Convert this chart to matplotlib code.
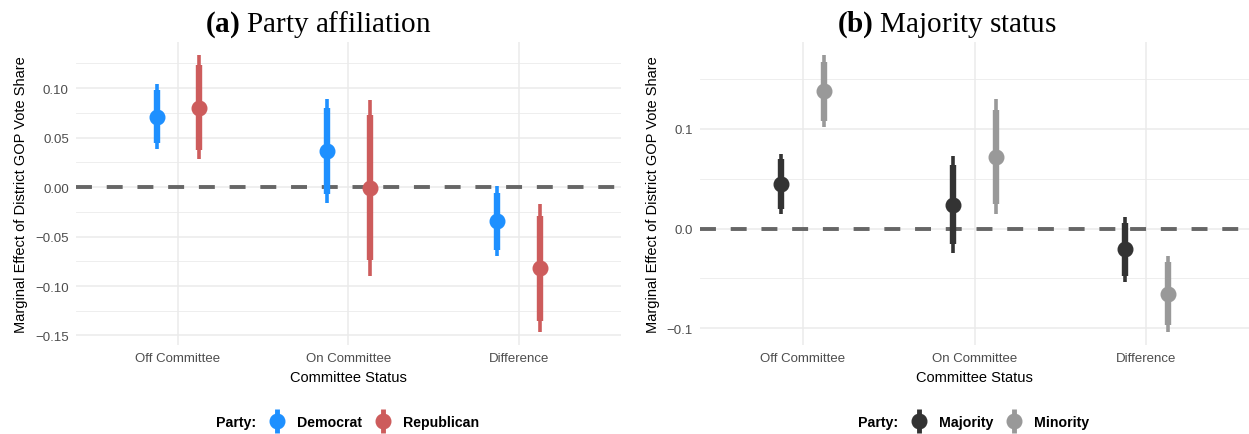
import numpy as np
import matplotlib
matplotlib.use("Agg")
import matplotlib.pyplot as plt
from matplotlib.lines import Line2D

plt.rcParams['font.family'] = ['Liberation Sans', 'DejaVu Sans']
plt.rcParams['mathtext.fontset'] = 'custom'
plt.rcParams['mathtext.rm'] = 'Liberation Serif'
plt.rcParams['mathtext.bf'] = 'Liberation Serif:bold'

# categories on the x axis
categories = ['Off Committee', 'On Committee', 'Difference']

# (a) party affiliation: estimate, inner interval, outer interval
dem_est = [0.071, 0.036, -0.034]
dem_lo66 = [0.044, -0.007, -0.064]
dem_hi66 = [0.098, 0.080, -0.006]
dem_lo95 = [0.038, -0.016, -0.070]
dem_hi95 = [0.104, 0.089, 0.001]

rep_est = [0.080, -0.001, -0.082]
rep_lo66 = [0.037, -0.074, -0.135]
rep_hi66 = [0.123, 0.073, -0.029]
rep_lo95 = [0.028, -0.090, -0.146]
rep_hi95 = [0.133, 0.088, -0.017]

# (b) majority status
maj_est = [0.045, 0.024, -0.021]
maj_lo66 = [0.020, -0.016, -0.048]
maj_hi66 = [0.070, 0.064, 0.006]
maj_lo95 = [0.015, -0.025, -0.054]
maj_hi95 = [0.075, 0.073, 0.012]

min_est = [0.138, 0.072, -0.066]
min_lo66 = [0.108, 0.025, -0.097]
min_hi66 = [0.167, 0.119, -0.034]
min_lo95 = [0.102, 0.015, -0.104]
min_hi95 = [0.174, 0.130, -0.028]

yticks_a = [0.10, 0.05, 0.00, -0.05, -0.10, -0.15]
ytick_labels_a = ['0.10', '0.05', '0.00', '\u22120.05', '\u22120.10', '\u22120.15']
yticks_b = [0.1, 0.0, -0.1]
ytick_labels_b = ['0.1', '0.0', '\u22120.1']

W, H = 1249, 435
fig = plt.figure(figsize=(W / 100, H / 100), dpi=100)


def draw_series(ax, xs, est, lo66, hi66, lo95, hi95, color):
    ax.vlines(xs, lo95, hi95, color=color, lw=2.6, zorder=3)
    ax.vlines(xs, lo66, hi66, color=color, lw=4.6, zorder=3)
    ax.plot(xs, est, 'o', color=color, ms=10.5, zorder=4)


def style_axes(ax, ylim, yticks, ylabels, minor):
    ax.set_xlim(0.4, 3.6)
    ax.set_ylim(*ylim)
    ax.set_xticks(range(1, 4))
    ax.set_xticklabels(categories, fontsize=9.5, color='#4D4D4D')
    ax.set_yticks(yticks)
    ax.set_yticklabels(ylabels, fontsize=9.5, color='#4D4D4D')
    ax.set_yticks(minor, minor=True)
    ax.tick_params(axis='both', which='both', length=0, pad=5)
    ax.grid(True, which='major', color='#EBEBEB', lw=1.1, zorder=0)
    ax.grid(True, which='minor', axis='y', color='#EBEBEB', lw=0.6, zorder=0)
    ax.set_axisbelow(True)
    for s in ax.spines.values():
        s.set_visible(False)
    # dashed reference line at zero
    ax.axhline(0, color='#666666', lw=2.8, ls=(0, (4.1, 3.8)), zorder=2)
    ax.set_xlabel('Committee Status', fontsize=10.5, labelpad=4.5)
    ax.set_ylabel('Marginal Effect of District GOP Vote Share', fontsize=10.5, labelpad=5)


def add_legend(center_px, names, colors):
    handles = []
    for c in colors:
        bar = Line2D([0], [0], color=c, marker='|', ms=17, mew=3.5, lw=0)
        dot = Line2D([0], [0], color=c, marker='o', ms=10.5, lw=0)
        handles.append((bar, dot))
    leg = fig.legend(handles, names, loc='center', ncol=2,
                     bbox_to_anchor=((center_px + 26) / W, 1 - 423 / H),
                     frameon=False, handlelength=1.0, handletextpad=0.94,
                     columnspacing=0.94,
                     prop={'weight': 'bold', 'size': 10.2})
    fig.canvas.draw()
    bb = leg.get_window_extent()
    fig.text((bb.x0 - 7.5) / W, 1 - 423 / H, 'Party:', ha='right', va='center',
             fontsize=10.2, fontweight='bold')
    return leg


x = np.arange(1, 4)
off = 0.125

ax1 = fig.add_axes([75.7 / W, 89 / H, (621 - 75.7) / W, 303 / H])
draw_series(ax1, x - off, dem_est, dem_lo66, dem_hi66, dem_lo95, dem_hi95, '#1E90FF')
draw_series(ax1, x + off, rep_est, rep_lo66, rep_hi66, rep_lo95, rep_hi95, '#CD5C5C')
style_axes(ax1, (-0.1596, 0.1465), yticks_a, ytick_labels_a,
           [0.125, 0.075, 0.025, -0.025, -0.075, -0.125])

ax2 = fig.add_axes([700 / W, 89 / H, (1249 - 700) / W, 303 / H])
draw_series(ax2, x - off, maj_est, maj_lo66, maj_hi66, maj_lo95, maj_hi95, '#333333')
draw_series(ax2, x + off, min_est, min_lo66, min_hi66, min_lo95, min_hi95, '#999999')
style_axes(ax2, (-0.117, 0.1874), yticks_b, ytick_labels_b, [0.15, 0.05, -0.05])

fig.text(318 / W, 1 - 32 / H, r'$\mathbf{(a)}$ Party affiliation', fontsize=21,
         ha='center', va='baseline', fontfamily='Liberation Serif')
fig.text(947 / W, 1 - 32 / H, r'$\mathbf{(b)}$ Majority status', fontsize=21,
         ha='center', va='baseline', fontfamily='Liberation Serif')

add_legend((75.7 + 621) / 2, ['Democrat', 'Republican'], ['#1E90FF', '#CD5C5C'])
add_legend((700 + 1249) / 2, ['Majority', 'Minority'], ['#333333', '#999999'])

fig.savefig('out.png', dpi=100)
